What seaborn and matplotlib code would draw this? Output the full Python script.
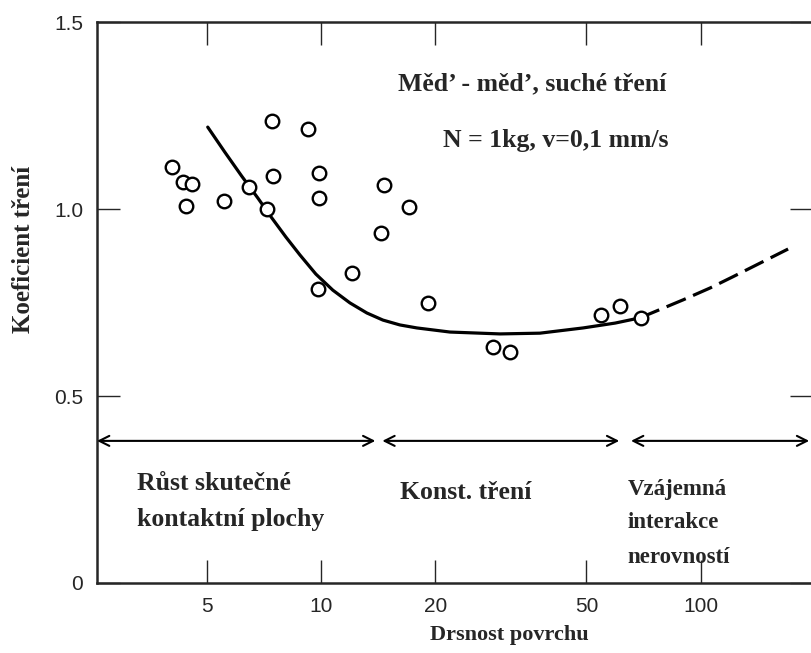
"""
Friction coefficient vs. surface roughness (Cu - Cu, dry)
"""

import numpy as np
import pandas as pd
import matplotlib

matplotlib.use("Agg")
import matplotlib.pyplot as plt
import seaborn as sns


# measured points
roughness = [7.41, 9.25, 4.06, 4.33, 4.56, 4.40, 5.54, 6.46, 7.48, 9.89, 9.87,
             7.21, 14.64, 17.07, 14.35, 12.08, 9.83, 19.15, 28.3, 31.4, 54.5,
             61.3, 69.6]
friction = [1.236, 1.214, 1.111, 1.073, 1.066, 1.009, 1.021, 1.060, 1.088,
            1.097, 1.029, 0.999, 1.065, 1.005, 0.936, 0.828, 0.785, 0.750,
            0.632, 0.617, 0.716, 0.740, 0.709]

# trend curve (solid part, then extrapolated dashed part)
curve_x = [5.03, 5.58, 6.18, 6.82, 7.42, 8.08, 8.80, 9.69, 10.74, 11.91,
           13.20, 14.55, 16.13, 17.88, 21.85, 29.6, 37.7, 49.0, 59.5, 69.2]
curve_y = [1.219, 1.152, 1.088, 1.029, 0.976, 0.925, 0.877, 0.826, 0.783,
           0.749, 0.722, 0.703, 0.690, 0.682, 0.671, 0.666, 0.668, 0.682,
           0.695, 0.709]
dash_x = [69.2, 89.8, 105.9, 121.6, 145.0, 169.8]
dash_y = [0.709, 0.757, 0.789, 0.819, 0.858, 0.893]

# regions (arrows along y = 0.38)
regions = [(2.57, 13.9), (14.5, 61.0), (65.5, 193.0)]
arrow_y = 0.38

xticks = [5, 10, 20, 50, 100]
yticks = [0, 0.5, 1.0, 1.5]
ytick_labels = ["0", "0.5", "1.0", "1.5"]

title_lines = ["Měd’ - měd’, suché tření", "N = 1kg, v=0,1 mm/s"]
region_labels = [
    (0.056, 0.178, "Růst skutečné", 18.5),
    (0.056, 0.114, "kontaktní plochy", 18.5),
    (0.423, 0.162, "Konst. tření", 18.5),
    (0.741, 0.166, "Vzájemná", 16.5),
    (0.741, 0.107, "interakce", 16.5),
    (0.741, 0.046, "nerovností", 16.5),
]


def plot_friction(path="out.png"):
    sns.set_style("ticks")
    plt.rcParams["font.family"] = ["Liberation Sans", "DejaVu Sans"]

    points = pd.DataFrame({"x": roughness, "y": friction})
    solid = pd.DataFrame({"x": curve_x, "y": curve_y})
    dashed = pd.DataFrame({"x": dash_x, "y": dash_y})

    fig = plt.figure(figsize=(8.11, 6.53), dpi=100)
    ax = fig.add_axes([0.1196, 0.1072, 0.8834, 0.8591])

    sns.lineplot(data=solid, x="x", y="y", sort=False, color="black",
                 linewidth=2.3, ax=ax, zorder=2)
    sns.lineplot(data=dashed, x="x", y="y", sort=False, color="black",
                 linewidth=2.3, ax=ax, zorder=2)
    ax.lines[-1].set_dashes([6.5, 2.5])
    sns.scatterplot(data=points, x="x", y="y", marker="o", s=95,
                    facecolor="white", edgecolor="black", linewidth=1.7,
                    ax=ax, zorder=3)

    for x0, x1 in regions:
        ax.annotate("", xy=(x1, arrow_y), xytext=(x0, arrow_y),
                    arrowprops=dict(arrowstyle="<->", color="black", lw=1.5,
                                    shrinkA=0, shrinkB=0,
                                    mutation_scale=18))

    ax.set_xscale("log")
    ax.set_xlim(2.57, 198)
    ax.set_ylim(0, 1.5)
    ax.set_xticks(xticks)
    ax.set_xticklabels([str(t) for t in xticks])
    ax.xaxis.set_minor_locator(matplotlib.ticker.NullLocator())
    ax.set_yticks(yticks)
    ax.set_yticklabels(ytick_labels)
    ax.tick_params(axis="both", direction="in", length=16.5, width=1.0,
                   labelsize=15, pad=10, top=True, right=True)
    ax.set_xlabel("")
    ax.set_ylabel("")
    for side in ["left", "bottom", "top", "right"]:
        ax.spines[side].set_linewidth(1.8)

    serif = ["Liberation Serif", "DejaVu Serif"]
    ax.text(0.420, 0.889, title_lines[0], transform=ax.transAxes,
            family=serif, weight="bold", fontsize=18.5, va="center")
    ax.text(0.483, 0.788, title_lines[1], transform=ax.transAxes,
            family=serif, weight="bold", fontsize=18.5, va="center")
    for x, y, label, size in region_labels:
        ax.text(x, y, label, transform=ax.transAxes, family=serif,
                weight="bold", fontsize=size, va="center")

    ax.text(0.576, -0.093, "Drsnost povrchu", transform=ax.transAxes,
            family=serif, weight="bold", fontsize=16, ha="center",
            va="center")
    ax.text(-0.103, 0.594, "Koeficient tření", transform=ax.transAxes,
            family=serif, weight="bold", fontsize=18, ha="center",
            va="center", rotation=90)

    fig.savefig(path, dpi=100)
    plt.close(fig)


if __name__ == "__main__":
    plot_friction()
